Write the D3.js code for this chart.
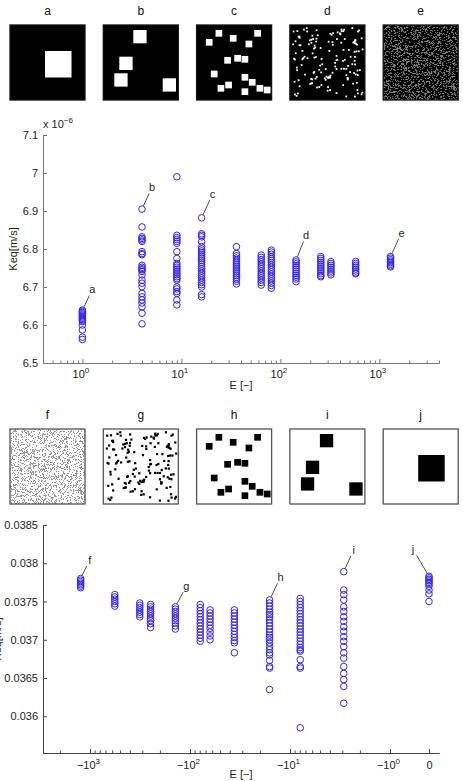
<!DOCTYPE html>
<html>
<head>
<meta charset="utf-8">
<script src="https://cdn.jsdelivr.net/npm/d3@7"></script>
<style>
body { margin: 0; background: #fff; }
svg { display: block; font-family: "Liberation Sans", Arial, sans-serif; }
</style>
</head>
<body>
<svg id="chart" width="463" height="781"></svg>
<script>
// ---- data: top plot (E > 0), Keq in 1e-6 m/s ----
var topE = [1, 4, 9, 16, 36, 64, 81, 144, 256, 324, 576, 1296];
var topK = [
  [6.639, 6.636, 6.633, 6.630, 6.627, 6.624, 6.621, 6.618, 6.615, 6.612, 6.609, 6.600, 6.587, 6.568, 6.562],
  [6.905, 6.858, 6.832, 6.828, 6.824, 6.820, 6.793, 6.788, 6.785, 6.757, 6.752, 6.748, 6.745, 6.741, 6.732, 6.718, 6.710, 6.701, 6.683, 6.674, 6.666, 6.658, 6.648, 6.631, 6.603],
  [6.990, 6.836, 6.830, 6.825, 6.820, 6.815, 6.793, 6.775, 6.762, 6.757, 6.752, 6.747, 6.742, 6.737, 6.732, 6.727, 6.722, 6.718, 6.700, 6.695, 6.688, 6.683, 6.666, 6.653],
  [6.882, 6.840, 6.836, 6.832, 6.819, 6.806, 6.800, 6.795, 6.790, 6.785, 6.780, 6.775, 6.770, 6.765, 6.760, 6.754, 6.748, 6.742, 6.736, 6.730, 6.724, 6.718, 6.712, 6.706, 6.700, 6.680, 6.674],
  [6.806, 6.788, 6.782, 6.776, 6.770, 6.765, 6.760, 6.755, 6.750, 6.745, 6.740, 6.735, 6.730, 6.725, 6.720, 6.715, 6.708],
  [6.784, 6.778, 6.772, 6.766, 6.760, 6.754, 6.748, 6.742, 6.736, 6.730, 6.724, 6.718, 6.712, 6.705],
  [6.797, 6.792, 6.786, 6.780, 6.775, 6.770, 6.764, 6.758, 6.752, 6.746, 6.740, 6.734, 6.728, 6.722, 6.716, 6.710, 6.704, 6.697],
  [6.771, 6.766, 6.761, 6.756, 6.751, 6.746, 6.741, 6.736, 6.731, 6.726, 6.721, 6.714],
  [6.780, 6.775, 6.770, 6.765, 6.760, 6.755, 6.750, 6.745, 6.740, 6.735, 6.730, 6.727],
  [6.767, 6.762, 6.757, 6.752, 6.747, 6.742, 6.737, 6.732],
  [6.767, 6.762, 6.757, 6.752, 6.747, 6.742, 6.737, 6.735],
  [6.780, 6.776, 6.772, 6.768, 6.764, 6.760, 6.756, 6.753]
];
var topYTicks = [6.5, 6.6, 6.7, 6.8, 6.9, 7.0, 7.1];
var topXTicks = [1, 10, 100, 1000];
var topLabels = ["a", "b", "c", "d", "e"];
var topNoteCluster = [0, 1, 3, 7, 11];

// ---- data: bottom plot (E <= 0) ----
var botE = [-1240, -565, -318, -248, -140, -79, -63, -36, -16, -7.9, -2.9, 0];
var botK = [
  [0.03780, 0.03778, 0.03776, 0.03774, 0.03772, 0.03770, 0.03768],
  [0.03759, 0.03756, 0.03753, 0.03750, 0.03747, 0.03744],
  [0.03748, 0.03745, 0.03742, 0.03739, 0.03736, 0.03733, 0.03730],
  [0.03746, 0.03743, 0.03740, 0.03737, 0.03734, 0.03731, 0.03728, 0.03725, 0.03721, 0.03716],
  [0.03743, 0.03740, 0.03737, 0.03734, 0.03731, 0.03728, 0.03725, 0.03722, 0.03718, 0.03714],
  [0.03746, 0.03742, 0.03738, 0.03734, 0.03730, 0.03726, 0.03722, 0.03718, 0.03714, 0.03710, 0.03706, 0.03702, 0.03698],
  [0.03739, 0.03735, 0.03731, 0.03727, 0.03723, 0.03719, 0.03715, 0.03710, 0.03705, 0.03700],
  [0.03739, 0.03735, 0.03731, 0.03727, 0.03723, 0.03719, 0.03715, 0.03711, 0.03707, 0.03703, 0.03699, 0.03696, 0.03683],
  [0.03752, 0.03748, 0.03744, 0.03740, 0.03736, 0.03733, 0.03730, 0.03726, 0.03722, 0.03718, 0.03714, 0.03710, 0.03706, 0.03703, 0.03700, 0.03696, 0.03691, 0.03687, 0.03683, 0.03680, 0.03673, 0.03665, 0.03663, 0.03635],
  [0.03754, 0.03750, 0.03746, 0.03742, 0.03738, 0.03734, 0.03730, 0.03726, 0.03722, 0.03718, 0.03714, 0.03710, 0.03706, 0.03702, 0.03698, 0.03694, 0.03690, 0.03687, 0.03685, 0.03674, 0.03665, 0.03663, 0.03585],
  [0.03789, 0.03765, 0.03759, 0.03752, 0.03743, 0.03737, 0.03730, 0.03724, 0.03717, 0.03711, 0.03704, 0.03698, 0.03691, 0.03683, 0.03676, 0.03665, 0.03656, 0.03648, 0.03639, 0.03617],
  [0.03783, 0.03781, 0.03779, 0.03777, 0.03775, 0.03773, 0.03770, 0.03765, 0.03760, 0.03750]
];
var botYTicks = [0.036, 0.0365, 0.037, 0.0375, 0.038, 0.0385];
var botXTicks = [-1000, -100, -10, -1, 0];
var botLabels = ["f", "g", "h", "i", "j"];
var botNoteCluster = [0, 4, 8, 10, 11];

// image contents (px inside a 75px panel)
var bigSquare = [[35, 26]];
var fourSquares = [[30, 5], [16, 31.7], [11, 48.3], [59.4, 53.3]];
var sixteenSquares = [[22.3, 8.3], [61, 8.3], [12.6, 17.3], [36.6, 13.3], [52.3, 19], [31, 35.3], [41, 33.3], [48.3, 34.3],
  [17.6, 49], [48.3, 52.3], [55.6, 57.3], [24.3, 63.3], [32, 60], [48.3, 66.7], [63.3, 63.3], [70.6, 65]];

var svg = d3.select("#chart");
var markColor = "#3526e8";
var PS = 75;

// seeded generator, only for the image textures
var seed;
function rnd() { seed = (seed * 16807) % 2147483647; return seed / 2147483647; }

function drawPanel(x, y, kind, inv) {
  var g = svg.append("g").attr("transform", "translate(" + x + "," + y + ")");
  var bg = inv ? "#fff" : "#000", fg = inv ? "#000" : "#fff";
  g.append("rect").attr("width", PS).attr("height", PS).attr("fill", bg);
  if (kind === "big" || kind === "four" || kind === "sixteen") {
    var list = kind === "big" ? bigSquare : kind === "four" ? fourSquares : sixteenSquares;
    var s = kind === "big" ? 26.5 : kind === "four" ? 13.3 : 6.7;
    g.selectAll("rect.sq").data(list).join("rect").attr("class", "sq")
      .attr("x", d => kind === "sixteen" ? d[0] - s / 2 : d[0])
      .attr("y", d => kind === "sixteen" ? d[1] - s / 2 : d[1])
      .attr("width", s).attr("height", s).attr("fill", fg);
  } else if (kind === "dots") {
    seed = 12345;
    var pts = [];
    for (var i = 0; i < 150; i++) pts.push([2 + rnd() * 70, 2 + rnd() * 70]);
    var ds = inv ? 2.2 : 1.8;
    g.selectAll("rect.dt").data(pts).join("rect").attr("class", "dt")
      .attr("x", d => d[0]).attr("y", d => d[1]).attr("width", ds).attr("height", ds)
      .attr("fill", fg);
  } else {
    seed = 987;
    var px = [];
    for (var yy = 0; yy < PS; yy++) for (var xx = 0; xx < PS; xx++) if (rnd() < 0.28) px.push([xx, yy]);
    g.selectAll("rect.nz").data(px).join("rect").attr("class", "nz")
      .attr("x", d => d[0]).attr("y", d => d[1]).attr("width", 1).attr("height", 1)
      .attr("fill", inv ? "#333" : "#fff").attr("opacity", inv ? 0.5 : 0.55);
  }
  g.append("rect").attr("width", PS).attr("height", PS).attr("fill", "none")
    .attr("stroke", inv ? "#555" : "#111").attr("stroke-width", 1.3);
}

var topKinds = ["big", "four", "sixteen", "dots", "noise"];
var botKinds = ["noise", "dots", "sixteen", "four", "big"];
topKinds.forEach(function(k, i) {
  var x = 10 + i * 93.3;
  drawPanel(x, 25, k, false);
  svg.append("text").attr("x", x + PS / 2).attr("y", 15).attr("text-anchor", "middle")
    .attr("font-size", 12).attr("fill", "#111").text(topLabels[i]);
});
botKinds.forEach(function(k, i) {
  var x = 10 + i * 93.3;
  drawPanel(x, 429, k, true);
  svg.append("text").attr("x", x + PS / 2).attr("y", 419).attr("text-anchor", "middle")
    .attr("font-size", 12).attr("fill", "#111").text(botLabels[i]);
});

function styleAxis(g, col) {
  g.selectAll("path.domain").attr("stroke", col);
  g.selectAll(".tick line").attr("stroke", col);
  g.selectAll("text").attr("font-family", "Liberation Sans, Arial, sans-serif").attr("font-size", 11).attr("fill", "#222");
}

function supText(sel, base, exp) {
  var t = sel.append("text").attr("fill", "#222").attr("font-size", 11).attr("text-anchor", "middle");
  t.append("tspan").text(base);
  if (exp !== null) t.append("tspan").attr("dy", -5).attr("font-size", 8).text(exp);
  return t;
}

function note(px, py, lx, ly, label) {
  var dx = lx - px, dy = ly - py, L = Math.sqrt(dx * dx + dy * dy);
  var ux = dx / L, uy = dy / L;
  svg.append("line").attr("x1", px + ux * 3.6).attr("y1", py + uy * 3.6)
    .attr("x2", lx - ux * 7).attr("y2", ly - uy * 7)
    .attr("stroke", "#222").attr("stroke-width", 0.8);
  svg.append("text").attr("x", lx).attr("y", ly + 4).attr("text-anchor", "middle")
    .attr("font-size", 11).attr("fill", "#222").text(label);
}

// ================= top chart =================
var xT = d3.scaleLog().domain([0.4, 4000]).range([43, 439]);
var yT = d3.scaleLinear().domain([6.5, 7.1]).range([363, 135]);

var minorT = [];
[0.1, 1, 10, 100, 1000].forEach(function(d) {
  for (var k = 2; k <= 9; k++) { var v = k * d; if (v >= 0.4 && v <= 4000) minorT.push(v); }
});
var gxm = svg.append("g").attr("transform", "translate(0,363)")
  .call(d3.axisBottom(xT).tickValues(minorT).tickSize(-2.5).tickSizeOuter(0).tickFormat(""));
styleAxis(gxm, "#777");
var gx = svg.append("g").attr("transform", "translate(0,363)")
  .call(d3.axisBottom(xT).tickValues(topXTicks).tickSize(-4).tickSizeOuter(0).tickFormat(""));
styleAxis(gx, "#777");
gx.selectAll(".tick").each(function(d) {
  supText(d3.select(this), "10", String(Math.round(Math.log10(d)))).attr("y", 15).attr("x", -2);
});
var gy = svg.append("g").attr("transform", "translate(43,0)")
  .call(d3.axisLeft(yT).tickValues(topYTicks).tickSize(-4).tickSizeOuter(0).tickPadding(5)
    .tickFormat(d => String(+d.toFixed(1))));
styleAxis(gy, "#777");

var tx = svg.append("text").attr("x", 43).attr("y", 128).attr("font-size", 11).attr("fill", "#222");
tx.append("tspan").text("x 10");
tx.append("tspan").attr("dy", -5).attr("font-size", 8).text("\u22126");

svg.append("text").attr("transform", "translate(17,249) rotate(-90)").attr("text-anchor", "middle")
  .attr("font-size", 11).attr("fill", "#222").text("Keq[m/s]");
svg.append("text").attr("x", 241).attr("y", 389).attr("text-anchor", "middle")
  .attr("font-size", 11).attr("fill", "#222").text("E [\u2212]");

topE.forEach(function(e, i) {
  svg.append("g").selectAll("circle").data(topK[i]).join("circle")
    .attr("cx", xT(e)).attr("cy", d => yT(d)).attr("r", 3.3)
    .attr("fill", "none").attr("stroke", markColor).attr("stroke-width", 1);
});

var topOff = [[10, -21], [10, -22], [11, -24], [10, -25], [11, -24]];
topNoteCluster.forEach(function(c, i) {
  var px = xT(topE[c]), py = yT(d3.max(topK[c]));
  note(px, py, px + topOff[i][0], py + topOff[i][1], topLabels[i]);
});

// ================= bottom chart =================
var zeroU = -0.39;
function uOf(e) { return e === 0 ? zeroU : Math.log10(-e); }
var xB = d3.scaleLinear().domain([3.47, -0.49]).range([43, 439]);
var yB = d3.scaleLinear().domain([0.03552, 0.0385]).range([753, 525]);

var minorB = [];
[1, 10, 100, 1000].forEach(function(d) {
  for (var k = 2; k <= 9; k++) { var u = Math.log10(k * d); if (u <= 3.47) minorB.push(u); }
});
var bxm = svg.append("g").attr("transform", "translate(0,753)")
  .call(d3.axisBottom(xB).tickValues(minorB).tickSize(-2.5).tickSizeOuter(0).tickFormat(""));
styleAxis(bxm, "#444");
var bx = svg.append("g").attr("transform", "translate(0,753)")
  .call(d3.axisBottom(xB).tickValues(botXTicks.map(uOf)).tickSize(-4).tickSizeOuter(0).tickFormat(""));
styleAxis(bx, "#444");
bx.selectAll(".tick").each(function(d, i) {
  var e = botXTicks[i];
  if (e === 0) supText(d3.select(this), "0", null).attr("y", 16);
  else supText(d3.select(this), "\u221210", String(Math.round(Math.log10(-e)))).attr("y", 16).attr("x", -2);
});
var by = svg.append("g").attr("transform", "translate(43,0)")
  .call(d3.axisLeft(yB).tickValues(botYTicks).tickSize(-4).tickSizeOuter(0).tickPadding(5)
    .tickFormat(d => String(+d.toFixed(4))));
styleAxis(by, "#444");

svg.append("text").attr("transform", "translate(1,639) rotate(-90)").attr("text-anchor", "middle")
  .attr("font-size", 11).attr("fill", "#222").text("Keq[m/s]");
svg.append("text").attr("x", 241).attr("y", 778).attr("text-anchor", "middle")
  .attr("font-size", 11).attr("fill", "#222").text("E [\u2212]");

botE.forEach(function(e, i) {
  svg.append("g").selectAll("circle").data(botK[i]).join("circle")
    .attr("cx", xB(uOf(e))).attr("cy", d => yB(d)).attr("r", 3.3)
    .attr("fill", "none").attr("stroke", markColor).attr("stroke-width", 1);
});

var botOff = [[9, -19], [11, -21], [11, -23], [10, -22], [-16, -27]];
botNoteCluster.forEach(function(c, i) {
  var px = xB(uOf(botE[c])), py = yB(d3.max(botK[c]));
  note(px, py, px + botOff[i][0], py + botOff[i][1], botLabels[i]);
});
</script>
</body>
</html>
